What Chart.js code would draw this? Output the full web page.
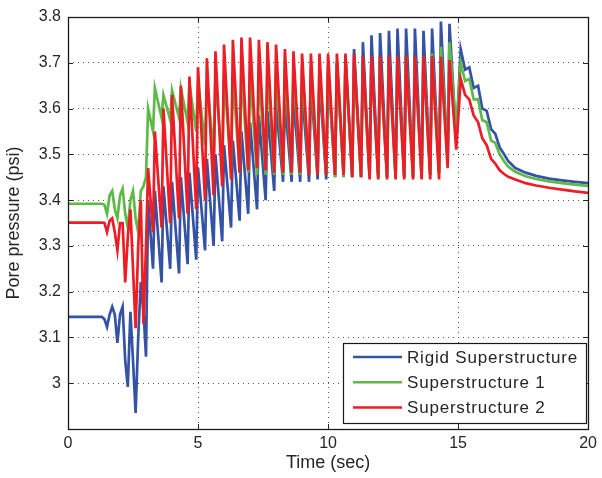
<!DOCTYPE html>
<html><head><meta charset="utf-8">
<script src="https://cdn.jsdelivr.net/npm/chart.js@4/dist/chart.umd.min.js"></script>
<style>html,body{margin:0;padding:0;background:#fff;}</style>
</head><body>
<canvas id="c" width="602" height="478"></canvas>
<script>
const seriesNames = ['Rigid Superstructure', 'Superstructure 1', 'Superstructure 2'];
const seriesColors = ['#3553a5', '#5dba47', '#ec1d25'];
const xTickValues = [0, 5, 10, 15, 20];
const yTickLabels = ['3', '3.1', '3.2', '3.3', '3.4', '3.5', '3.6', '3.7', '3.8'];

const timeSec = [
  0, 1.3,
  1.4, 1.5, 1.6, 1.7, 1.8, 1.9, 2.0, 2.1, 2.2, 2.3, 2.4, 2.5, 2.6, 2.7, 2.8, 2.9, 3.0,
  3.08, 3.27, 3.34, 3.60, 3.67, 3.93,
  4.00, 4.27, 4.34, 4.60, 4.67, 4.93,
  5.00, 5.27, 5.34, 5.60, 5.67, 5.93,
  6.00, 6.27, 6.34, 6.60, 6.67, 6.93,
  7.00, 7.27, 7.34, 7.60, 7.67, 7.93,
  8.00, 8.27, 8.34, 8.60, 8.67, 8.93,
  9.00, 9.27, 9.34, 9.60, 9.67, 9.93,
  10.00, 10.27, 10.34, 10.60, 10.67, 10.93,
  11.00, 11.27, 11.34, 11.60, 11.67, 11.93,
  12.00, 12.27, 12.34, 12.60, 12.67, 12.93,
  13.00, 13.27, 13.34, 13.60, 13.67, 13.93,
  14.00, 14.27, 14.34, 14.60, 14.67, 14.93,
  15.10, 15.27, 15.43, 15.60, 15.77, 15.93,
  16.10, 16.27, 16.43, 16.60, 16.77, 16.93,
  17.2, 17.6, 18.0, 18.5, 19.0, 19.5, 20.0
];

const rigidSuperstructure = [
  3.145, 3.145,
  3.14, 3.123, 3.15, 3.167, 3.15, 3.088, 3.15, 3.167, 3.05, 2.992, 3.156, 3.05, 2.935, 3.10, 3.221, 3.16, 3.058,
  3.40, 3.25, 3.42, 3.22, 3.43, 3.25,
  3.44, 3.24, 3.45, 3.26, 3.46, 3.27,
  3.47, 3.29, 3.49, 3.30, 3.50, 3.31,
  3.52, 3.34, 3.53, 3.355, 3.55, 3.37,
  3.57, 3.38, 3.585, 3.40, 3.595, 3.42,
  3.61, 3.44, 3.615, 3.44, 3.625, 3.44,
  3.64, 3.44, 3.655, 3.445, 3.665, 3.445,
  3.68, 3.45, 3.70, 3.45, 3.715, 3.45,
  3.73, 3.45, 3.745, 3.45, 3.76, 3.45,
  3.765, 3.45, 3.77, 3.45, 3.775, 3.45,
  3.775, 3.45, 3.775, 3.45, 3.77, 3.455,
  3.775, 3.46, 3.79, 3.48, 3.785, 3.53,
  3.73, 3.685, 3.69, 3.645, 3.65, 3.60,
  3.595, 3.555, 3.545, 3.515, 3.50, 3.485,
  3.47, 3.46, 3.453, 3.447, 3.443, 3.44, 3.437
];

const superstructure1 = [
  3.392, 3.392,
  3.39, 3.37, 3.41, 3.42, 3.38, 3.36, 3.41, 3.425, 3.37, 3.34, 3.40, 3.42, 3.36, 3.33, 3.42, 3.43, 3.45,
  3.60, 3.55, 3.645, 3.58, 3.63, 3.575,
  3.64, 3.58, 3.645, 3.57, 3.655, 3.55,
  3.66, 3.52, 3.665, 3.50, 3.665, 3.485,
  3.67, 3.47, 3.675, 3.46, 3.68, 3.46,
  3.68, 3.455, 3.685, 3.455, 3.685, 3.455,
  3.685, 3.455, 3.69, 3.455, 3.69, 3.455,
  3.69, 3.455, 3.69, 3.455, 3.695, 3.455,
  3.695, 3.45, 3.70, 3.45, 3.70, 3.45,
  3.70, 3.45, 3.70, 3.45, 3.705, 3.45,
  3.705, 3.45, 3.705, 3.45, 3.71, 3.45,
  3.71, 3.45, 3.71, 3.45, 3.715, 3.455,
  3.72, 3.46, 3.735, 3.49, 3.745, 3.55,
  3.70, 3.66, 3.665, 3.62, 3.62, 3.575,
  3.57, 3.53, 3.525, 3.50, 3.485, 3.473,
  3.462, 3.452, 3.446, 3.441, 3.437, 3.434, 3.431
];

const superstructure2 = [
  3.351, 3.351,
  3.35, 3.33, 3.355, 3.36, 3.33, 3.29, 3.35, 3.35, 3.22, 3.32, 3.38, 3.25, 3.12, 3.30, 3.40, 3.13, 3.30,
  3.47, 3.33, 3.55, 3.34, 3.60, 3.35,
  3.63, 3.36, 3.65, 3.37, 3.67, 3.38,
  3.69, 3.40, 3.71, 3.41, 3.725, 3.43,
  3.74, 3.445, 3.75, 3.46, 3.755, 3.465,
  3.755, 3.47, 3.75, 3.465, 3.745, 3.46,
  3.74, 3.46, 3.73, 3.46, 3.725, 3.46,
  3.72, 3.455, 3.72, 3.455, 3.72, 3.455,
  3.72, 3.455, 3.72, 3.455, 3.72, 3.45,
  3.72, 3.45, 3.715, 3.445, 3.715, 3.445,
  3.715, 3.445, 3.715, 3.445, 3.715, 3.445,
  3.715, 3.445, 3.715, 3.445, 3.715, 3.445,
  3.715, 3.445, 3.713, 3.47, 3.706, 3.51,
  3.665, 3.63, 3.62, 3.585, 3.57, 3.535,
  3.52, 3.49, 3.48, 3.465, 3.457, 3.451,
  3.445, 3.437, 3.432, 3.427, 3.423, 3.419, 3.416
];

const FONT = 'Liberation Sans, Arial, Helvetica, sans-serif';
const TEXT = '#262626';

function pts(vals) { return timeSec.map((t, i) => ({ x: t, y: vals[i] })); }
const seriesValues = [rigidSuperstructure, superstructure1, superstructure2];

const boxAndLegend = {
  id: 'boxAndLegend',
  afterDatasetsDraw(chart) {
    const { ctx, chartArea: a, scales } = chart;
    ctx.save();
    ctx.strokeStyle = '#222';
    ctx.lineWidth = 1;
    const tl = 5;
    xTickValues.forEach(v => {
      const x = Math.round(scales.x.getPixelForValue(v)) + 0.5;
      ctx.beginPath();
      ctx.moveTo(x, a.bottom); ctx.lineTo(x, a.bottom - tl);
      ctx.moveTo(x, a.top); ctx.lineTo(x, a.top + tl);
      ctx.stroke();
    });
    yTickLabels.forEach(s => {
      const y = Math.round(scales.y.getPixelForValue(parseFloat(s))) + 0.5;
      ctx.beginPath();
      ctx.moveTo(a.left, y); ctx.lineTo(a.left + tl, y);
      ctx.moveTo(a.right, y); ctx.lineTo(a.right - tl, y);
      ctx.stroke();
    });
    ctx.strokeStyle = '#1a1a1a';
    ctx.lineWidth = 1.3;
    ctx.strokeRect(Math.round(a.left) + 0.5, Math.round(a.top) + 0.5,
      Math.round(a.right - a.left), Math.round(a.bottom - a.top));
    const lx = 343, ly = 343, lw = 243, lh = 80;
    ctx.fillStyle = '#fff';
    ctx.fillRect(lx, ly, lw, lh);
    ctx.strokeStyle = '#1a1a1a';
    ctx.lineWidth = 1.2;
    ctx.strokeRect(lx + 0.5, ly + 0.5, lw, lh);
    ctx.font = '17px ' + FONT;
    try { ctx.letterSpacing = '0.8px'; } catch (e) {}
    ctx.textBaseline = 'middle';
    ctx.textAlign = 'left';
    seriesNames.forEach((name, i) => {
      const y = ly + 14 + i * 25.3;
      ctx.strokeStyle = seriesColors[i];
      ctx.lineWidth = 2.5;
      ctx.beginPath();
      ctx.moveTo(353, y); ctx.lineTo(402, y);
      ctx.stroke();
      ctx.fillStyle = TEXT;
      ctx.fillText(name, 407, y + 1);
    });
    ctx.restore();
  }
};

new Chart(document.getElementById('c'), {
  type: 'line',
  data: {
    datasets: seriesNames.map((name, i) => ({
      label: name,
      data: pts(seriesValues[i]),
      borderColor: seriesColors[i],
      backgroundColor: seriesColors[i],
      borderWidth: 2.7,
      pointRadius: 0,
      tension: 0,
      fill: false,
      order: 2 - i
    }))
  },
  options: {
    responsive: false,
    animation: false,
    devicePixelRatio: 1,
    layout: { padding: { left: 0, top: 17, right: 10, bottom: 0 } },
    plugins: { legend: { display: false }, tooltip: { enabled: false } },
    scales: {
      x: {
        type: 'linear', min: 0, max: 20,
        afterBuildTicks(s) { s.ticks = xTickValues.map(v => ({ value: v })); },
        ticks: { color: TEXT, font: { family: FONT, size: 16 }, padding: 5, maxRotation: 0,
                 callback: v => String(v) },
        grid: { color: '#555', lineWidth: 1, drawTicks: false },
        border: { display: false, dash: [1, 4] },
        title: { display: true, text: 'Time (sec)', color: TEXT, font: { family: FONT, size: 18 },
                 padding: { top: 0, bottom: 4 } },
        afterFit(s) { s.height = 49; }
      },
      y: {
        type: 'linear', min: 2.9, max: 3.8,
        afterBuildTicks(s) { s.ticks = yTickLabels.map(l => ({ value: parseFloat(l) })); },
        ticks: { color: TEXT, font: { family: FONT, size: 16 }, padding: 7,
                 callback: (v, i) => yTickLabels[i] },
        grid: { color: '#555', lineWidth: 1, drawTicks: false },
        border: { display: false, dash: [1, 4] },
        title: { display: true, text: 'Pore pressure (psi)', color: TEXT, font: { family: FONT, size: 18 },
                 padding: { top: 3, bottom: 0 } },
        afterFit(s) { s.width = 68; }
      }
    }
  },
  plugins: [boxAndLegend]
});
</script>
</body></html>
